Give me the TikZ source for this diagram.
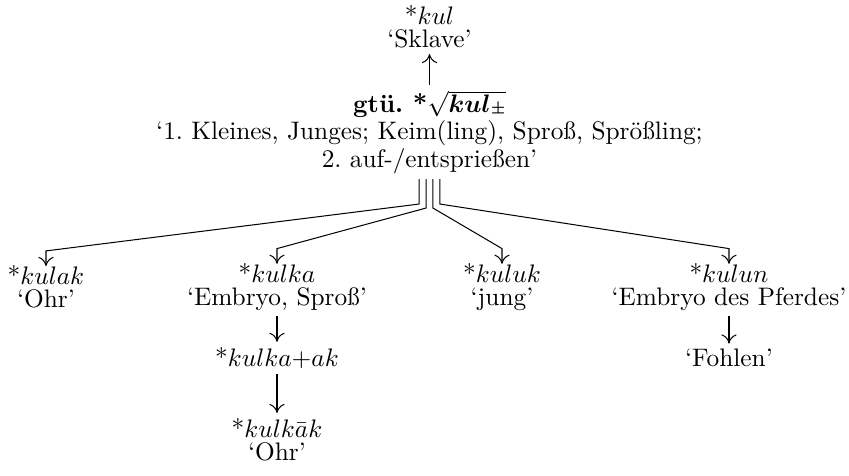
\documentclass[tikz,border=0pt]{standalone}
\usepackage{amsmath,amssymb}
\usetikzlibrary{arrows.meta}
\tikzset{every picture/.style={line width=0.4pt}}
\tikzset{lex/.style={align=center,inner sep=2pt,font=\fontsize{10}{9.2}\selectfont\frenchspacing},
    >={To[length=3.6pt,width=6pt]}}

\begin{document}
\begin{tikzpicture}[x=0.395pt,y=0.395pt,yscale=-1,xscale=1]
    \useasboundingbox (0,0) rectangle (849,475);

    % Root and its source
    \node[lex] (root) at (429.5,132) {\textbf{gtü. *}$\sqrt{\boldsymbol{kul}\boldsymbol{\scriptscriptstyle\pm}}$\\‘1. Kleines, Junges; Keim(ling), Sproß, Sprößling;\\2. auf-/entsprießen’};
    \node[lex] (kul) at (429.5,27) {*$kul$\\‘Sklave’};

    % Derivations
    \node[lex] (kulak) at (46,287) {*$kulak$\\‘Ohr’};
    \node[lex] (kulka) at (277,287) {*$kulka$\\‘Embryo, Sproß’};
    \node[lex] (kuluk) at (502,287) {*$kuluk$\\‘jung’};
    \node[lex] (kulun) at (729,287) {*$kulun$\\‘Embryo des Pferdes’};
    \node[lex] (kulkaak) at (277,358) {*$kulka{+}ak$};
    \node[lex] (kulkak) at (277,440) {*$kulk\bar{a}k$\\‘Ohr’};
    \node[lex] (fohlen) at (729,358) {‘Fohlen’};

    % Arrows
    \draw[->] (root) -- (kul);
    \draw[->] ([xshift=-4.1pt]root.south) -- ++(0,25) -- ([yshift=-3.6pt]kulak.north) -- ([yshift=2.4pt]kulak.north);
    \draw[->] ([xshift=-1.36pt]root.south) -- ++(0,29) -- ([yshift=-3.6pt]kulka.north) -- ([yshift=2.4pt]kulka.north);
    \draw[->] ([xshift=1.36pt]root.south) -- ++(0,29) -- ([yshift=-3.6pt]kuluk.north) -- ([yshift=2.4pt]kuluk.north);
    \draw[->] ([xshift=4.1pt]root.south) -- ++(0,25) -- ([yshift=-3.6pt]kulun.north) -- ([yshift=2.4pt]kulun.north);
    \draw[->] (kulka) -- (kulkaak);
    \draw[->] (kulkaak) -- (kulkak);
    \draw[->] (kulun) -- (fohlen);

\end{tikzpicture}
\end{document}
